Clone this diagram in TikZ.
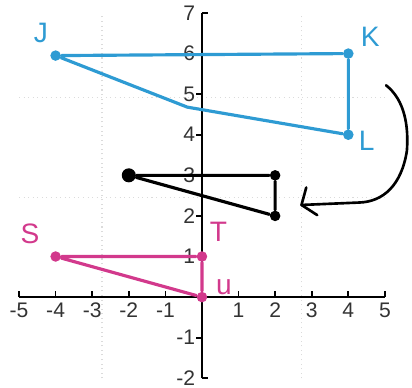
\documentclass[tikz,border=0pt]{standalone}
\usepackage{fontspec}
\setmainfont{Liberation Sans}
\definecolor{bluei}{HTML}{2E9BD3}
\definecolor{pinki}{HTML}{D2398C}
\begin{document}
\begin{tikzpicture}[x=0.366cm,y=0.406cm,
  grid line/.style={black!14,line width=0.3pt,densely dotted},
  axisline/.style={black,line width=0.7pt},
  ticklbl/.style={font=\fontsize{6}{7}\selectfont,inner sep=0.5pt,text=black!80},
  bluedot/.style={circle,fill=bluei,inner sep=0,minimum size=3pt},
  blackdot/.style={circle,fill=black,inner sep=0,minimum size=3pt},
  pinkdot/.style={circle,fill=pinki,inner sep=0,minimum size=3pt},
  blueline/.style={bluei,line width=0.9pt,line join=round,line cap=round},
  blackline/.style={black,line width=0.9pt,line join=round,line cap=round},
  pinkline/.style={pinki,line width=0.9pt,line join=round,line cap=round},
  hand/.style={font=\fontsize{8}{9}\selectfont,inner sep=0}]
\useasboundingbox (-5.52,-2.22) rectangle (5.74,7.32);
% faint grid
\draw[grid line] (-5,-2) grid (5,7);
% axes
\coordinate (xl) at (-5,0); \coordinate (xr) at (5,0);
\coordinate (yb) at (0,-2); \coordinate (yt) at (0,7);
\draw[axisline] (xl) -- (xr);
\draw[axisline] (yb) -- (yt);
\foreach \x in {-5,...,5} \draw[axisline,line width=0.5pt] (\x,0) -- (\x,0.15);
\foreach \y in {-1,1,2,...,6} \draw[axisline,line width=0.5pt] (0,\y) -- (-0.17,\y);
\draw[axisline,line width=0.5pt] (0,7) -- (0.17,7);
\draw[axisline,line width=0.5pt] (0,-2) -- (0.17,-2);
\foreach \x in {-5,...,-1,1,2,...,5} \node[ticklbl] (xt\x) at (\x,-0.33) {\x};
\foreach \y in {-2,-1,1,2,...,7} \node[ticklbl,anchor=east] (yt\y) at (-0.12,\y) {\y};
% blue triangle JKL
\node[bluedot] (J) at (-4,5.95) {};
\node[bluedot] (K) at (4,6) {};
\node[bluedot] (L) at (4,4) {};
\coordinate (JLm) at (-0.4,4.68);
\draw[blueline] (J) -- (K) -- (L) -- (JLm) -- (J);
\node[hand,text=bluei] (Jl) at (-4.4,6.5) {J};
\node[hand,text=bluei] (Kl) at (4.6,6.4) {K};
\node[hand,text=bluei] (Ll) at (4.5,3.85) {L};
% black triangle
\node[blackdot,minimum size=4pt] (A) at (-2,3) {};
\node[blackdot] (B) at (2,3) {};
\node[blackdot] (C) at (2,2) {};
\draw[blackline] (A) -- (B) -- (C) -- (A);
% pink triangle STU
\node[pinkdot] (S) at (-4,1) {};
\node[pinkdot] (T) at (0,1) {};
\node[pinkdot] (U) at (0,0) {};
\draw[pinkline] (S) -- (T) -- (U) -- (S);
\node[hand,text=pinki] (Sl) at (-4.7,1.55) {S};
\node[hand,text=pinki] (Tl) at (0.45,1.6) {T};
\node[hand,text=pinki] (Ul) at (0.6,0.25) {u};
% curved arrow
\coordinate (a0) at (5.03,5.22);
\coordinate (a1) at (5.6,3.6);
\coordinate (a2) at (4.3,2.33);
\coordinate (tip) at (2.72,2.27);
\coordinate (arm1) at (2.85,2.7);
\coordinate (arm2) at (3.15,2.02);
\draw[blackline,line width=0.75pt] (a0) .. controls (5.55,4.85) and (5.65,4.2) .. (a1)
  .. controls (5.45,2.75) and (4.95,2.35) .. (a2) -- (tip);
\draw[blackline,line width=0.75pt] (arm1) -- (tip) -- (arm2);
\end{tikzpicture}
\end{document}
